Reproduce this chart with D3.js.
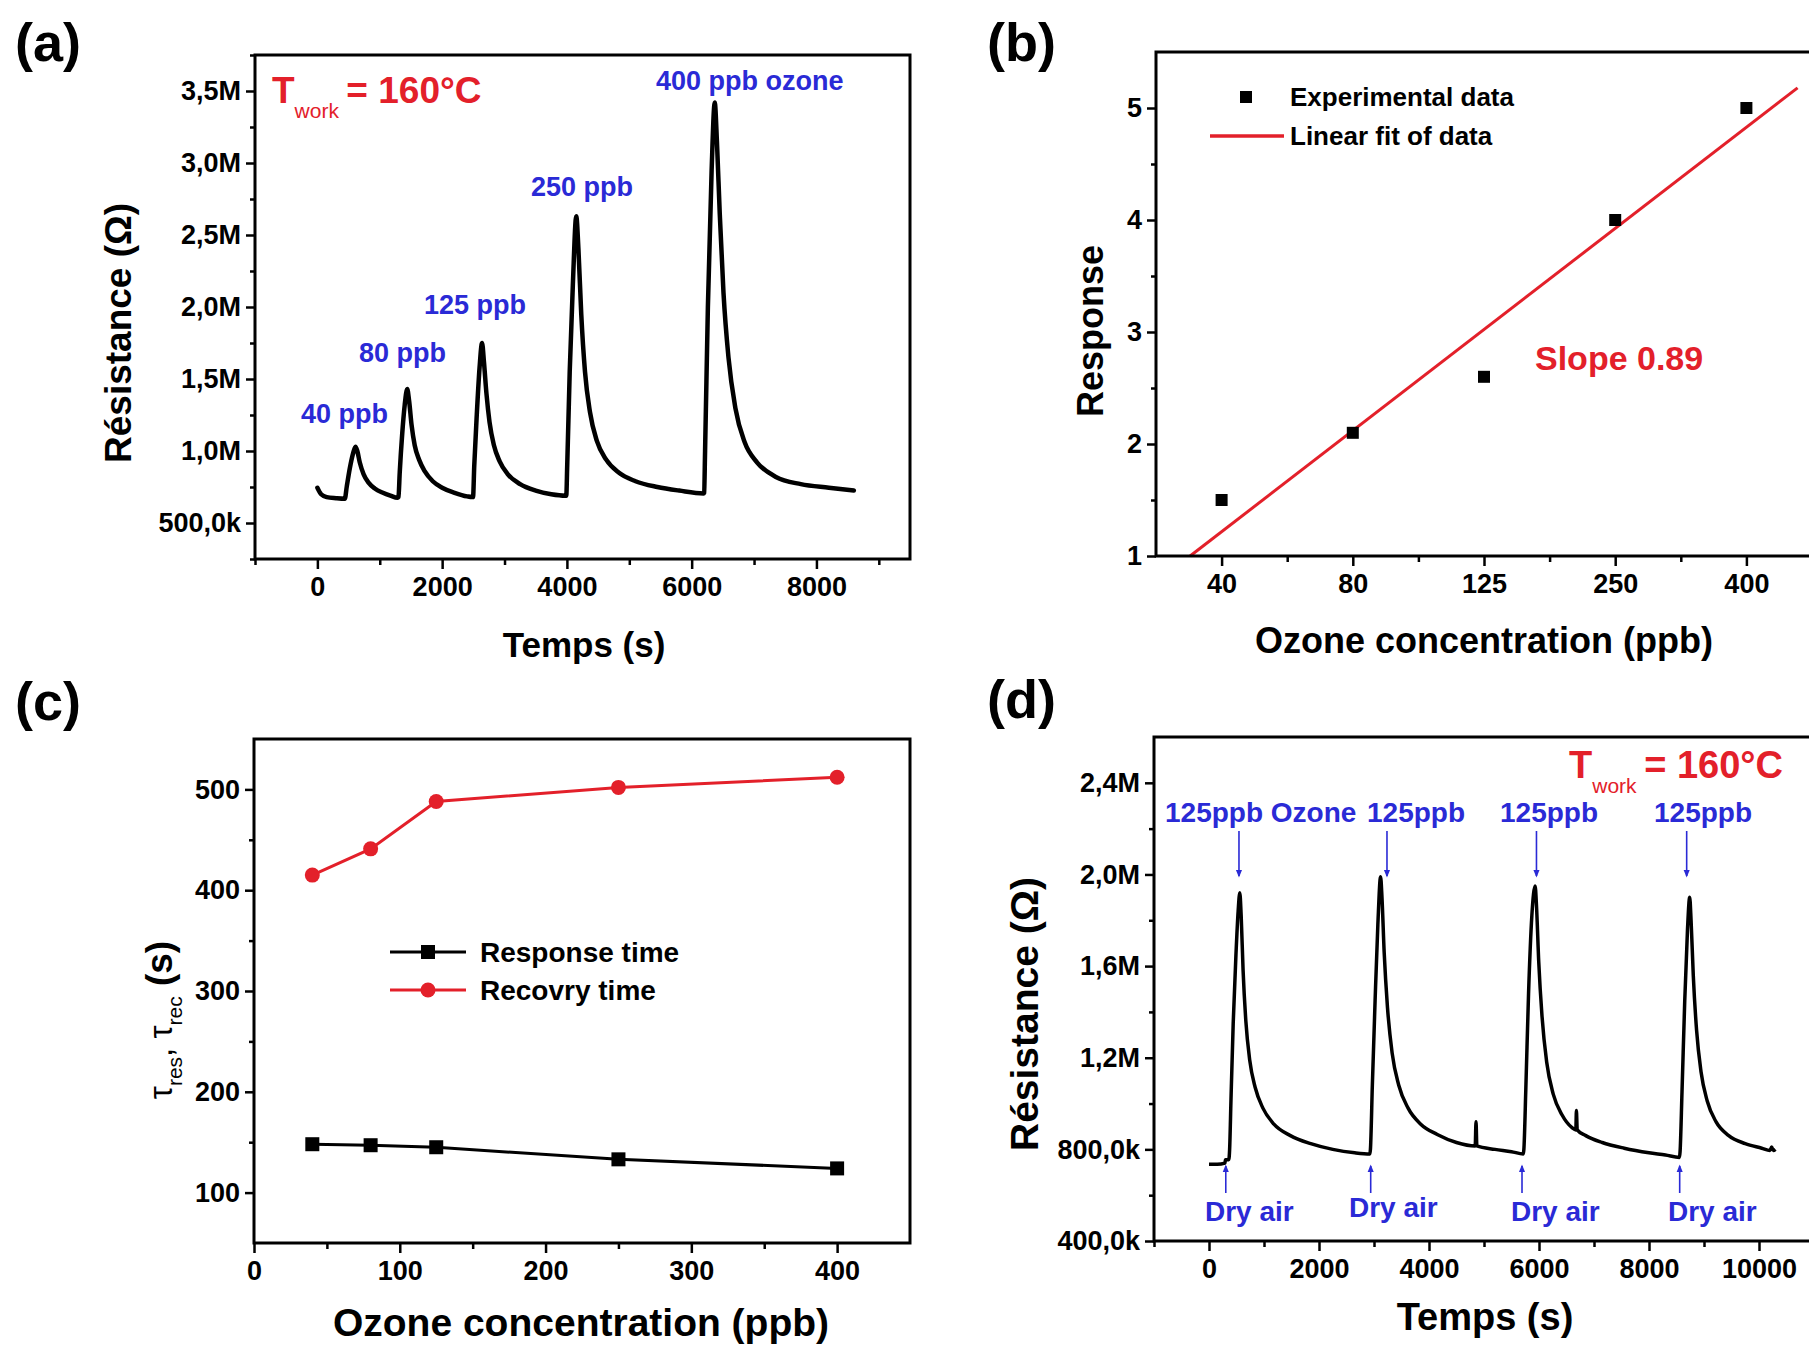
<!DOCTYPE html>
<html><head><meta charset="utf-8">
<script src="https://cdn.jsdelivr.net/npm/d3@7"></script>
<style>
body{margin:0;background:#fff}
svg{display:block}
text{font-family:"Liberation Sans",Arial,Helvetica,sans-serif}
</style>
</head><body>
<svg id="chart" width="1809" height="1348"></svg>
<script>
// ---------------- DATA ----------------
// Panel (a): resistance transient (time in s, resistance in MΩ)
const aTime = [0,60,150,300,440,470,520,570,610,640,680,740,820,920,1050,1170,1285,
  1300,1320,1360,1400,1440,1470,1510,1560,1630,1720,1850,2000,2200,2400,2480,
  2495,2515,2555,2600,2640,2670,2710,2760,2830,2920,3050,3250,3500,3750,3975,
  3990,4005,4045,4095,4150,4185,4230,4290,4370,4480,4630,4830,5100,5450,5800,6190,
  6200,6215,6260,6320,6370,6405,6450,6510,6590,6700,6850,7050,7350,7750,8200,8600];
const aRes = [0.745,0.70,0.68,0.672,0.668,0.75,0.88,0.98,1.03,1.00,0.92,0.84,0.78,0.74,0.71,0.69,0.675,
  0.68,0.85,1.12,1.32,1.43,1.35,1.18,1.04,0.94,0.86,0.79,0.745,0.71,0.685,0.68,
  0.68,0.90,1.25,1.58,1.75,1.62,1.40,1.20,1.04,0.93,0.84,0.77,0.725,0.70,0.69,
  0.69,0.90,1.55,2.15,2.63,2.40,1.95,1.55,1.27,1.07,0.94,0.85,0.79,0.75,0.725,0.705,
  0.71,1.00,2.00,2.95,3.42,3.15,2.65,2.10,1.65,1.30,1.06,0.92,0.82,0.77,0.745,0.725];
const aXTicks = [0,2000,4000,6000,8000];
const aXMinor = [-1000,1000,3000,5000,7000,9000];
const aYTicks = [0.5,1.0,1.5,2.0,2.5,3.0,3.5];
const aYMinor = [0.25,0.75,1.25,1.75,2.25,2.75,3.25,3.75];
const aYLabels = ["500,0k","1,0M","1,5M","2,0M","2,5M","3,0M","3,5M"];
const aPeakLabels = ["40 ppb","80 ppb","125 ppb","250 ppb","400 ppb ozone"];

// Panel (b): response vs concentration
const bCategories = ["40","80","125","250","400"];
const bResponse = [1.5,2.1,2.6,4.0,5.0];
const bFitX = [0.76,5.39];       // category index units
const bFitY = [1.0,5.18];
const bYTicks = [1,2,3,4,5];
const bYMinor = [1.5,2.5,3.5,4.5];
const bXMinor = [1.5,2.5,3.5,4.5];

// Panel (c): response / recovery time
const cConc = [40,80,125,250,400];
const cResponseTime = [148,147,145,133,124];
const cRecoveryTime = [415,441,488,502,512];
const cXTicks = [0,100,200,300,400];
const cXMinor = [50,150,250,350];
const cYTicks = [100,200,300,400,500];
const cYMinor = [150,250,350,450];

// Panel (d): repeatability at 125 ppb (time s, resistance MΩ)
const dTime = [0,150,290,300,360,375,400,440,490,530,560,585,620,670,740,840,980,1180,1480,1850,2250,2650,2925,
  2935,2970,3020,3070,3120,3145,3185,3245,3330,3450,3620,3850,4150,4500,4840,4855,4870,5200,5500,5715,
  5725,5760,5810,5870,5930,5955,5995,6055,6140,6260,6420,6600,6670,6680,6695,6850,7150,7550,8000,8300,8555,
  8565,8600,8650,8700,8740,8765,8805,8865,8945,9060,9220,9450,9750,10050,10200,10230,10260,10300];
const dRes = [0.735,0.735,0.74,0.755,0.755,0.80,1.02,1.35,1.65,1.84,1.92,1.82,1.58,1.36,1.19,1.07,0.98,0.91,0.86,0.825,0.80,0.785,0.78,
  0.80,1.08,1.45,1.78,1.99,1.90,1.66,1.42,1.22,1.08,0.98,0.91,0.865,0.83,0.815,0.92,0.815,0.80,0.79,0.78,
  0.80,1.06,1.48,1.82,1.95,1.86,1.62,1.38,1.18,1.04,0.95,0.895,0.885,0.97,0.885,0.86,0.83,0.805,0.785,0.775,0.765,
  0.79,1.05,1.45,1.76,1.90,1.80,1.56,1.32,1.14,1.01,0.92,0.86,0.825,0.805,0.795,0.81,0.795,0.80];
const dXTicks = [0,2000,4000,6000,8000,10000];
const dXMinor = [-1000,1000,3000,5000,7000,9000,11000];
const dYTicks = [0.4,0.8,1.2,1.6,2.0,2.4];
const dYMinor = [0.6,1.0,1.4,1.8,2.2];
const dYLabels = ["400,0k","800,0k","1,2M","1,6M","2,0M","2,4M"];
const dOzoneLabels = ["125ppb Ozone","125ppb","125ppb","125ppb"];
const dOzoneArrowT = [545,3236,5954,8685];
const dAirArrowT = [305,2940,5691,8558];

// ---------------- DRAWING ----------------
const svg = d3.select("#chart");
const FONT = '"Liberation Sans", Arial, Helvetica, sans-serif';
const RED = "#e3202a", BLUE = "#2a2ad6";

function frame(x, y) {
  const [x0, x1] = x.range(), [y0, y1] = y.range();
  svg.append("rect").attr("x", x0).attr("y", y1)
    .attr("width", x1 - x0).attr("height", y0 - y1)
    .attr("fill", "none").attr("stroke", "#000").attr("stroke-width", 3);
}
function styleAxis(g, size) {
  g.attr("font-family", FONT).attr("font-size", size).attr("font-weight", "bold");
  g.select(".domain").remove();
  g.selectAll(".tick line").attr("stroke", "#000").attr("stroke-width", 2.5);
  g.selectAll(".tick text").attr("fill", "#000");
}
function axes(x, y, o) {
  const yb = y.range()[0], xl = x.range()[0];
  const gx = svg.append("g").attr("transform", `translate(0,${yb})`)
    .call(d3.axisBottom(x).tickValues(o.xMajor).tickFormat(o.xFmt).tickSize(10).tickPadding(8).tickSizeOuter(0));
  styleAxis(gx, o.fs || 27);
  const gxm = svg.append("g").attr("transform", `translate(0,${yb})`)
    .call(d3.axisBottom(x).tickValues(o.xMinor).tickFormat("").tickSize(6).tickSizeOuter(0));
  styleAxis(gxm, 10);
  const gy = svg.append("g").attr("transform", `translate(${xl},0)`)
    .call(d3.axisLeft(y).tickValues(o.yMajor).tickFormat(o.yFmt).tickSize(9).tickPadding(5).tickSizeOuter(0));
  styleAxis(gy, o.fs || 27);
  const gym = svg.append("g").attr("transform", `translate(${xl},0)`)
    .call(d3.axisLeft(y).tickValues(o.yMinor).tickFormat("").tickSize(5).tickSizeOuter(0));
  styleAxis(gym, 10);
}
function text(x, y, str, size, opt = {}) {
  return svg.append("text").attr("x", x).attr("y", y).text(str)
    .attr("font-size", size).attr("font-family", FONT)
    .attr("font-weight", opt.weight || "bold")
    .attr("fill", opt.fill || "#000")
    .attr("text-anchor", opt.anchor || "start");
}
function vtext(cx, cy, str, size) {
  return svg.append("text").attr("transform", `translate(${cx},${cy}) rotate(-90)`)
    .text(str).attr("font-size", size).attr("font-family", FONT)
    .attr("font-weight", "bold").attr("text-anchor", "middle").attr("fill", "#000");
}
function twork(x, y, size, subSize) {
  const t = svg.append("text").attr("x", x).attr("y", y).attr("font-family", FONT)
    .attr("fill", RED).attr("font-size", size).attr("font-weight", "bold");
  t.append("tspan").text("T");
  t.append("tspan").attr("font-size", subSize).attr("dy", size * 0.4).attr("font-weight", "normal").text("work");
  t.append("tspan").attr("dy", -size * 0.4).attr("dx", size * 0.2).text("= 160°C");
}
// panel letters
text(15, 61, "(a)", 54);
text(987, 61, "(b)", 54);
text(15, 720, "(c)", 54);
text(987, 718, "(d)", 54);

// ---------- Panel (a) ----------
{
  const x = d3.scaleLinear().domain([-1000, 9500]).range([255, 910]);
  const y = d3.scaleLinear().domain([0.25, 3.75]).range([559, 55]);
  axes(x, y, {xMajor: aXTicks, xMinor: aXMinor, xFmt: d => d,
    yMajor: aYTicks, yMinor: aYMinor, yFmt: (d, i) => aYLabels[i]});
  const pts = aTime.map((t, i) => [t, aRes[i]]);
  svg.append("path").datum(pts)
    .attr("d", d3.line().x(d => x(d[0])).y(d => y(d[1])).curve(d3.curveMonotoneX))
    .attr("fill", "none").attr("stroke", "#000").attr("stroke-width", 4.5)
    .attr("stroke-linejoin", "round").attr("stroke-linecap", "round");
  frame(x, y);
  twork(272, 103, 37, 21);
  const pos = [[301, 423], [359, 362], [424, 314], [531, 196], [656, 90]];
  aPeakLabels.forEach((s, i) => text(pos[i][0], pos[i][1], s, 27, {fill: BLUE}));
  vtext(131, 333, "Résistance (Ω)", 37);
  text(584, 657, "Temps (s)", 35, {anchor: "middle"});
}

// ---------- Panel (b) ----------
{
  const x = d3.scaleLinear().domain([0.5, 5.5]).range([1156, 1812]);
  const y = d3.scaleLinear().domain([1, 5.5]).range([556, 52]);
  axes(x, y, {xMajor: [1, 2, 3, 4, 5], xMinor: bXMinor, xFmt: (d, i) => bCategories[i],
    yMajor: bYTicks, yMinor: bYMinor, yFmt: d => d});
  svg.append("line").attr("x1", x(bFitX[0])).attr("y1", y(bFitY[0]))
    .attr("x2", x(bFitX[1])).attr("y2", y(bFitY[1]))
    .attr("stroke", RED).attr("stroke-width", 3);
  svg.selectAll(".bpt").data(bResponse).enter().append("rect")
    .attr("x", (d, i) => x(i + 1) - 6).attr("y", d => y(d) - 6)
    .attr("width", 12).attr("height", 12).attr("fill", "#000");
  frame(x, y);
  // legend
  svg.append("rect").attr("x", 1240).attr("y", 91).attr("width", 12).attr("height", 12).attr("fill", "#000");
  text(1290, 106, "Experimental data", 26);
  svg.append("line").attr("x1", 1210).attr("x2", 1284).attr("y1", 136).attr("y2", 136)
    .attr("stroke", RED).attr("stroke-width", 3.5);
  text(1290, 145, "Linear fit of data", 26);
  text(1535, 370, "Slope 0.89", 34, {fill: RED});
  vtext(1103, 331, "Response", 36);
  text(1484, 653, "Ozone concentration (ppb)", 36, {anchor: "middle"});
}

// ---------- Panel (c) ----------
{
  const x = d3.scaleLinear().domain([0, 450]).range([254, 910]);
  const y = d3.scaleLinear().domain([50, 550]).range([1243, 739]);
  axes(x, y, {xMajor: cXTicks, xMinor: cXMinor, xFmt: d => d,
    yMajor: cYTicks, yMinor: cYMinor, yFmt: d => d});
  const line = d3.line().x(d => x(d[0])).y(d => y(d[1]));
  const resp = cConc.map((c, i) => [c, cResponseTime[i]]);
  const rec = cConc.map((c, i) => [c, cRecoveryTime[i]]);
  svg.append("path").datum(resp).attr("d", line).attr("fill", "none")
    .attr("stroke", "#000").attr("stroke-width", 3);
  svg.append("path").datum(rec).attr("d", line).attr("fill", "none")
    .attr("stroke", RED).attr("stroke-width", 3);
  svg.selectAll(".cs").data(resp).enter().append("rect")
    .attr("x", d => x(d[0]) - 7).attr("y", d => y(d[1]) - 7)
    .attr("width", 14).attr("height", 14).attr("fill", "#000");
  svg.selectAll(".cc").data(rec).enter().append("circle")
    .attr("cx", d => x(d[0])).attr("cy", d => y(d[1])).attr("r", 7.5).attr("fill", RED);
  frame(x, y);
  // legend
  svg.append("line").attr("x1", 390).attr("x2", 466).attr("y1", 952).attr("y2", 952)
    .attr("stroke", "#000").attr("stroke-width", 3);
  svg.append("rect").attr("x", 421).attr("y", 945).attr("width", 14).attr("height", 14).attr("fill", "#000");
  text(480, 962, "Response time", 28);
  svg.append("line").attr("x1", 390).attr("x2", 466).attr("y1", 990).attr("y2", 990)
    .attr("stroke", RED).attr("stroke-width", 3);
  svg.append("circle").attr("cx", 428).attr("cy", 990).attr("r", 7.5).attr("fill", RED);
  text(480, 1000, "Recovry time", 28);
  // y label  τres, τrec (s)
  const t = svg.append("text").attr("transform", "translate(172,1020) rotate(-90)")
    .attr("text-anchor", "middle").attr("font-family", FONT).attr("fill", "#000").attr("font-size", 33);
  t.append("tspan").text("τ");
  t.append("tspan").attr("font-size", 21).attr("dy", 10).text("res");
  t.append("tspan").attr("dy", -10).text(", τ");
  t.append("tspan").attr("font-size", 21).attr("dy", 10).text("rec");
  t.append("tspan").attr("dy", -10).attr("font-size", 37).attr("font-weight", "bold").text(" (s)");
  text(581, 1336, "Ozone concentration (ppb)", 39, {anchor: "middle"});
}

// ---------- Panel (d) ----------
{
  const x = d3.scaleLinear().domain([-1000, 11000]).range([1154, 1814]);
  const y = d3.scaleLinear().domain([0.4, 2.6]).range([1241, 737]);
  axes(x, y, {xMajor: dXTicks, xMinor: dXMinor, xFmt: d => d,
    yMajor: dYTicks, yMinor: dYMinor, yFmt: (d, i) => dYLabels[i]});
  const pts = dTime.map((t, i) => [t, dRes[i]]);
  svg.append("path").datum(pts)
    .attr("d", d3.line().x(d => x(d[0])).y(d => y(d[1])).curve(d3.curveMonotoneX))
    .attr("fill", "none").attr("stroke", "#000").attr("stroke-width", 3.5)
    .attr("stroke-linejoin", "round");
  frame(x, y);
  twork(1569, 778, 38, 21);
  const lx = [1165, 1367, 1500, 1654];
  dOzoneLabels.forEach((s, i) => text(lx[i], 822, s, 28, {fill: BLUE}));
  const ax = [1205, 1349, 1511, 1668], ay = [1221, 1217, 1221, 1221];
  ax.forEach((v, i) => text(v, ay[i], "Dry air", 28, {fill: BLUE}));
  const defs = svg.append("defs");
  defs.append("marker").attr("id", "ah").attr("viewBox", "0 0 10 10").attr("refX", 8).attr("refY", 5)
    .attr("markerWidth", 5).attr("markerHeight", 5).attr("orient", "auto-start-reverse")
    .append("path").attr("d", "M0,1 L10,5 L0,9 z").attr("fill", BLUE);
  dOzoneArrowT.forEach(t => svg.append("line").attr("x1", x(t)).attr("x2", x(t))
    .attr("y1", 831).attr("y2", 876).attr("stroke", BLUE).attr("stroke-width", 1.6).attr("marker-end", "url(#ah)"));
  dAirArrowT.forEach(t => svg.append("line").attr("x1", x(t)).attr("x2", x(t))
    .attr("y1", 1193).attr("y2", 1166).attr("stroke", BLUE).attr("stroke-width", 1.6).attr("marker-end", "url(#ah)"));
  vtext(1038, 1014, "Résistance (Ω)", 39);
  text(1485, 1330, "Temps (s)", 38, {anchor: "middle"});
}
</script>
</body></html>
